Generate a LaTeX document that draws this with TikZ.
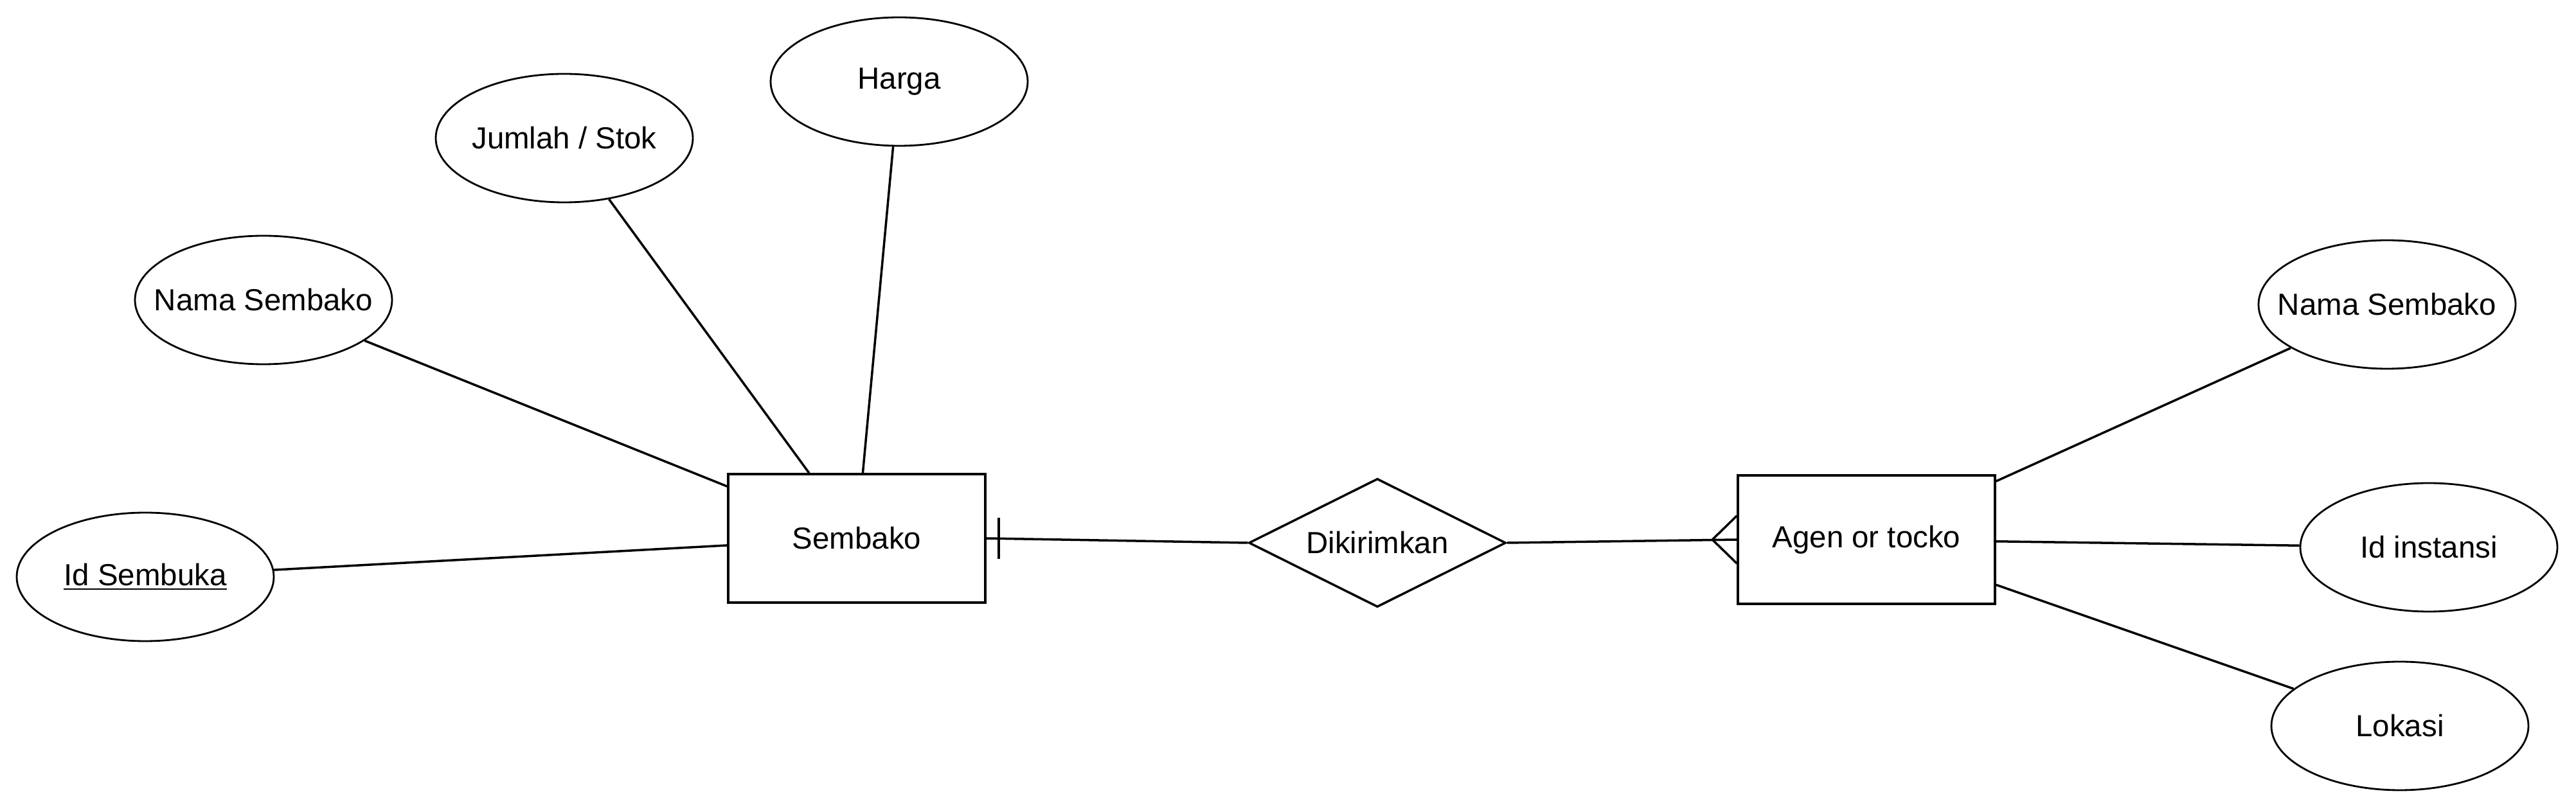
\documentclass[tikz,border=0pt]{standalone}
\usepackage{fontspec}
\setmainfont{Liberation Sans}
\usetikzlibrary{shapes.geometric}

\begin{document}
\begin{tikzpicture}[
  txt/.style={font=\fontsize{13.5}{16}\selectfont},
  attr/.style={txt,draw,ellipse,line width=0.8pt,minimum width=4cm,minimum height=2cm,inner xsep=-0.4cm,inner ysep=0pt},
  entity/.style={txt,draw,rectangle,line width=1pt,minimum width=4cm,minimum height=2cm},
  relation/.style={txt,draw,diamond,aspect=2,line width=1pt,minimum width=4cm,minimum height=2cm,inner sep=0pt},
  link/.style={line width=1pt}]
\useasboundingbox (0,0) rectangle (40.08,12.64);
\node[entity] (sembako) at (13.33,4.26) {Sembako};
\node[relation] (kirim) at (21.43,4.19) {Dikirimkan};
\node[entity] (agen) at (29.04,4.24) {Agen or tocko};
\node[attr] (harga) at (13.99,11.37) {Harga};
\node[attr] (jumlah) at (8.78,10.49) {Jumlah / Stok};
\node[attr] (nama) at (4.10,7.97) {Nama Sembako};
\node[attr] (idsembuka) at (2.26,3.66) {\underline{Id Sembuka}};
\node[attr] (namaagen) at (37.14,7.90) {Nama Sembako};
\node[attr] (idinstansi) at (37.79,4.12) {Id instansi};
\node[attr] (lokasi) at (37.34,1.34) {Lokasi};
\draw[link] (harga) -- (sembako);
\draw[link] (jumlah) -- (sembako);
\draw[link] (nama) -- (sembako);
\draw[link] (idsembuka) -- (sembako);
\draw[link] (sembako.east) -- (kirim.west);
\draw[link] ([xshift=0.19cm,yshift=0.32cm]sembako.east) -- ([xshift=0.19cm,yshift=-0.32cm]sembako.east);
\draw[link] (kirim.east) -- (agen.west);
\draw[link] ([yshift=0.37cm]agen.west) -- ([xshift=-0.38cm]agen.west) -- ([yshift=-0.37cm]agen.west);
\draw[link] (agen) -- (namaagen);
\draw[link] (agen) -- (idinstansi);
\draw[link] (agen) -- (lokasi);
\end{tikzpicture}
\end{document}
